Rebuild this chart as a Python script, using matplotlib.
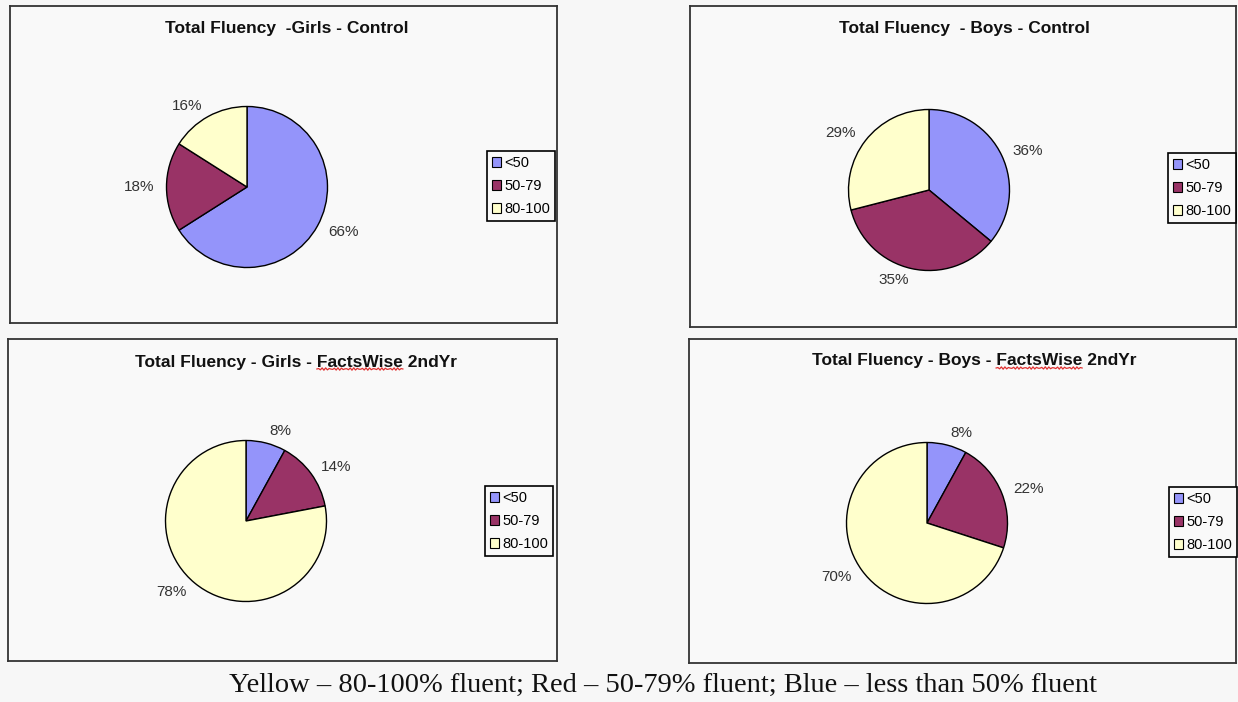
import matplotlib
matplotlib.use("Agg")
import matplotlib.pyplot as plt
from matplotlib.patches import Patch
from matplotlib.lines import Line2D
import numpy as np

categories = ["<50", "50-79", "80-100"]
colors = ["#9494FA", "#993366", "#FFFFCC"]

titles = [
    "Total Fluency  -Girls - Control",
    "Total Fluency  - Boys - Control",
    "Total Fluency - Girls - FactsWise 2ndYr",
    "Total Fluency - Boys - FactsWise 2ndYr",
]
girls_control = [66, 18, 16]
boys_control = [36, 35, 29]
girls_factswise = [8, 14, 78]
boys_factswise = [8, 22, 70]
caption = "Yellow \u2013 80-100% fluent; Red \u2013 50-79% fluent; Blue \u2013 less than 50% fluent"

W, H = 1238, 702
fig = plt.figure(figsize=(W / 100, H / 100), dpi=100, facecolor="#f7f7f7")


def fx(x):
    return x / W


def fy(y):
    return 1 - y / H


# panel layout in pixels: box (x0, y0, x1, y1), pie centre, title centre, legend upper-left
panels = [
    dict(box=(10, 6, 557, 323), pie=(247, 187), title=(287, 29), leg=(487, 151), vals=girls_control),
    dict(box=(690, 6, 1236, 327), pie=(929, 190), title=(964, 29), leg=(1168, 153), vals=boys_control),
    dict(box=(8, 339, 557, 661), pie=(246, 521), title=(296, 362), leg=(485, 486), vals=girls_factswise),
    dict(box=(689, 339, 1236, 663), pie=(927, 523), title=(974, 361), leg=(1169, 487), vals=boys_factswise),
]
R = 80.5
TITLE_SIZE = 12.5

title_texts = []
for p, title in zip(panels, titles):
    x0, y0, x1, y1 = p["box"]
    box = fig.add_axes([fx(x0), fy(y1), (x1 - x0) / W, (y1 - y0) / H], facecolor="#f9f9f9")
    box.set_xticks([])
    box.set_yticks([])
    for s in box.spines.values():
        s.set_color("#333333")
        s.set_linewidth(1.3)

    cx, cy = p["pie"]
    side = 2 * 1.25 * R
    ax = fig.add_axes([fx(cx - side / 2), fy(cy + side / 2), side / W, side / H])
    ax.pie(p["vals"], colors=colors, startangle=90, counterclock=False,
           labels=[f"{v}%" for v in p["vals"]], labeldistance=1.15,
           wedgeprops=dict(edgecolor="black", linewidth=1),
           textprops=dict(fontsize=11, color="#333333", family="Liberation Sans"))
    ax.set_xlim(-1.25, 1.25)
    ax.set_ylim(-1.25, 1.25)
    ax.set_aspect("equal")
    ax.axis("off")

    handles = [Patch(facecolor=c, edgecolor="black", linewidth=0.8) for c in colors]
    lx, ly = p["leg"]
    leg = ax.legend(handles, categories, loc="upper left",
                    bbox_to_anchor=(fx(lx), fy(ly)), bbox_transform=fig.transFigure,
                    prop=dict(family="Liberation Sans", size=10.5),
                    frameon=True, fancybox=False, edgecolor="black",
                    facecolor="#f9f9f9", framealpha=1,
                    handlelength=0.6, handleheight=0.6, handletextpad=0.25,
                    labelspacing=0.62, borderpad=0.35, borderaxespad=0)
    leg.get_frame().set_linewidth(1.2)

    tx, ty = p["title"]
    t = fig.text(fx(tx), fy(ty), title, ha="center", va="center",
                 fontsize=TITLE_SIZE, fontweight="bold", family="Liberation Sans", color="#111111")
    title_texts.append((t, title))

fig.text(fx(663), fy(685), caption, ha="center", va="center",
         fontsize=20.5, family="Liberation Serif", color="#111111")

# red spell-check squiggle under "FactsWise"
fig.canvas.draw()
renderer = fig.canvas.get_renderer()
for t, title in title_texts:
    if "FactsWise" not in title:
        continue
    bb = t.get_window_extent(renderer)
    pre = title.split("FactsWise")[0]
    tmp = fig.text(0, 0, pre, fontsize=TITLE_SIZE, fontweight="bold", family="Liberation Sans")
    w_pre = tmp.get_window_extent(renderer).width
    tmp.set_text("FactsWise")
    w_word = tmp.get_window_extent(renderer).width
    tmp.remove()
    xs = np.linspace(bb.x0 + w_pre, bb.x0 + w_pre + w_word, 50)
    ys = bb.y0 + 0.5 + 1.2 * np.sin((xs - xs[0]) * np.pi / 2)
    fig.add_artist(Line2D(xs / W, ys / H, color="#e03030", linewidth=0.9,
                          transform=fig.transFigure))

fig.savefig("out.png", dpi=100, facecolor=fig.get_facecolor())
